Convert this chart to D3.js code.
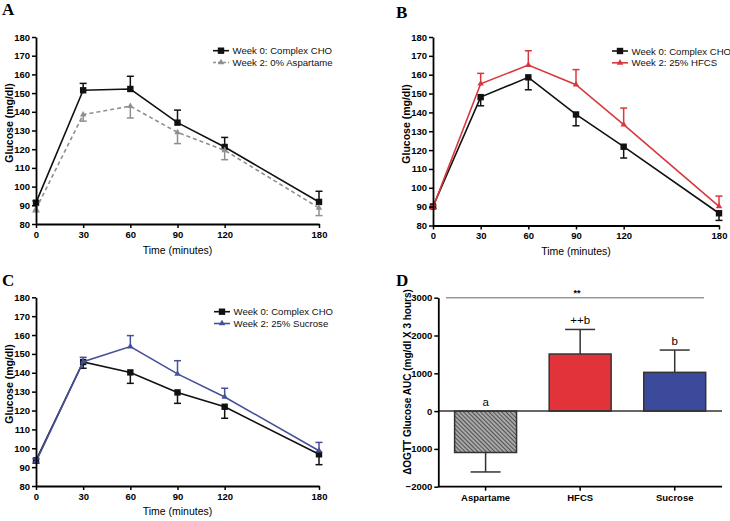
<!DOCTYPE html>
<html><head><meta charset="utf-8">
<script src="https://cdn.jsdelivr.net/npm/d3@7"></script>
<style>
body{margin:0;background:#fff;}
svg{display:block;font-family:"Liberation Sans",Arial,sans-serif;}
</style></head>
<body><svg id="c" width="730" height="521"></svg>
<script>
// ---------- data ----------
const timePoints = [0, 30, 60, 90, 120, 180];
const glucoseTicks = [80, 90, 100, 110, 120, 130, 140, 150, 160, 170, 180];

const aCho = [91.4, 151.5, 152.2, 134.2, 121.2, 91.8];
const aChoSem = [1.0, 3.7, 6.8, 6.7, 5.1, 5.7];
const aAsp = [88.0, 138.5, 143.0, 129.0, 119.4, 88.6];
const aAspSem = [1.5, 3.5, 6.3, 6.0, 5.0, 4.1];

const bCho = [90.1, 148.1, 158.6, 138.9, 121.8, 86.5];
const bChoSem = [1.0, 4.6, 6.6, 6.0, 6.0, 3.8];
const bHfcs = [89.6, 155.2, 165.1, 154.7, 133.5, 90.1];
const bHfcsSem = [1.0, 5.5, 7.6, 8.0, 8.8, 5.5];

const cCho = [93.6, 145.7, 140.2, 129.6, 122.0, 96.8];
const cChoSem = [1.5, 3.3, 5.8, 5.8, 6.1, 5.5];
const cSuc = [92.9, 145.9, 153.9, 139.4, 127.2, 98.7];
const cSucSem = [1.5, 2.3, 5.8, 7.0, 4.6, 4.4];

const aucCategories = ["Aspartame", "HFCS", "Sucrose"];
const aucValues = [-1095, 1510, 1025];
const aucSem = [515, 650, 590];
const aucLetters = ["a", "++b", "b"];
const aucTicks = [-2000, -1000, 0, 1000, 2000, 3000];

// ---------- drawing ----------
const svg = d3.select("#c");
const defs = svg.append("defs");
const pat = defs.append("pattern").attr("id", "hatch").attr("patternUnits", "userSpaceOnUse")
  .attr("width", 3).attr("height", 3).attr("patternTransform", "rotate(-45)");
pat.append("rect").attr("width", 3).attr("height", 3).attr("fill", "#a8a8a8");
pat.append("line").attr("x1", 0).attr("y1", 0).attr("x2", 0).attr("y2", 3)
  .attr("stroke", "#3a3a3a").attr("stroke-width", 1.6);

function styleAxis(g) {
  g.selectAll(".domain").attr("stroke", "#000").attr("stroke-width", 1.8);
  g.selectAll(".tick line").attr("stroke", "#000").attr("stroke-width", 1.5);
  g.selectAll(".tick text").attr("font-size", "9.5px").attr("font-weight", "bold")
    .attr("fill", "#000").attr("font-family", '"Liberation Sans",Arial,sans-serif');
}

function panelLabel(txt, x, y) {
  svg.append("text").attr("x", x).attr("y", y).text(txt)
    .attr("font-family", '"Liberation Serif","Times New Roman",serif')
    .attr("font-weight", "bold").attr("font-size", "17px");
}

function symbol(g, kind, x, y, color) {
  if (kind === "square") {
    g.append("rect").attr("x", x - 3.2).attr("y", y - 3.2).attr("width", 6.4).attr("height", 6.4).attr("fill", color);
  } else {
    g.append("path").attr("d", d3.symbol().type(d3.symbolTriangle).size(18)())
      .attr("transform", `translate(${x},${y})`).attr("fill", color);
  }
}

function linePanel(cfg) {
  const x = d3.scaleLinear().domain([0, 180]).range([cfg.x0, cfg.x1]);
  const y = d3.scaleLinear().domain([80, 180]).range([cfg.yb, cfg.yt]);
  const g = svg.append("g");

  cfg.series.forEach(s => {
    const pts = timePoints.map((t, i) => ({t, v: s.values[i], e: s.sem[i]}));
    pts.forEach(p => {
      const end = p.v + s.errDir * p.e;
      g.append("line").attr("x1", x(p.t)).attr("x2", x(p.t)).attr("y1", y(p.v)).attr("y2", y(end))
        .attr("stroke", s.color).attr("stroke-width", 1.5);
      g.append("line").attr("x1", x(p.t) - 3.5).attr("x2", x(p.t) + 3.5).attr("y1", y(end)).attr("y2", y(end))
        .attr("stroke", s.color).attr("stroke-width", 1.5);
    });
    g.append("path").datum(pts)
      .attr("d", d3.line().x(d => x(d.t)).y(d => y(d.v)))
      .attr("fill", "none").attr("stroke", s.color).attr("stroke-width", 1.6)
      .attr("stroke-dasharray", s.dash || null);
    pts.forEach(p => symbol(g, s.marker, x(p.t), y(p.v), s.color));
  });

  const ya = g.append("g").attr("transform", `translate(${cfg.x0},0)`)
    .call(d3.axisLeft(y).tickValues(glucoseTicks).tickSize(4).tickSizeOuter(0).tickPadding(2));
  styleAxis(ya);
  const xa = g.append("g").attr("transform", `translate(0,${cfg.yb})`)
    .call(d3.axisBottom(x).tickValues(timePoints).tickSize(4).tickSizeOuter(0).tickPadding(3));
  styleAxis(xa);

  g.append("text").attr("transform", `translate(${cfg.x0 - 23},${cfg.ylabY}) rotate(-90)`)
    .attr("text-anchor", "middle").attr("font-weight", "bold").attr("font-size", "10.5px")
    .text("Glucose (mg/dl)");
  g.append("text").attr("x", (cfg.x0 + cfg.x1) / 2).attr("y", cfg.xlabY)
    .attr("text-anchor", "middle").attr("font-size", "10.5px").text("Time (minutes)");

  cfg.series.forEach((s, i) => {
    const ly = cfg.legY + i * 11.8;
    g.append("line").attr("x1", cfg.legX).attr("x2", cfg.legX + 16).attr("y1", ly).attr("y2", ly)
      .attr("stroke", s.color).attr("stroke-width", 1.6).attr("stroke-dasharray", s.dash ? "3,2" : null);
    symbol(g, s.marker, cfg.legX + 8, ly, s.color);
    g.append("text").attr("x", cfg.legX + 19.5).attr("y", ly + 3.5)
      .attr("font-size", "9.6px").attr("fill", "#111").text(s.name);
  });
}

const choName = "Week 0: Complex CHO";
linePanel({x0: 36, x1: 319, yt: 37, yb: 224, ylabY: 123, xlabY: 254, legX: 213, legY: 50.7,
  series: [
    {name: choName, values: aCho, sem: aChoSem, errDir: 1, color: "#111", marker: "square"},
    {name: "Week 2: 0% Aspartame", values: aAsp, sem: aAspSem, errDir: -1, color: "#8f8f8f", marker: "tri", dash: "4,3"}
  ]});
linePanel({x0: 433, x1: 719, yt: 37, yb: 225.5, ylabY: 124, xlabY: 255, legX: 612, legY: 51,
  series: [
    {name: choName, values: bCho, sem: bChoSem, errDir: -1, color: "#111", marker: "square"},
    {name: "Week 2: 25% HFCS", values: bHfcs, sem: bHfcsSem, errDir: 1, color: "#d8373d", marker: "tri"}
  ]});
linePanel({x0: 36, x1: 319, yt: 297.3, yb: 486, ylabY: 384, xlabY: 515, legX: 214, legY: 311.7,
  series: [
    {name: choName, values: cCho, sem: cChoSem, errDir: -1, color: "#111", marker: "square"},
    {name: "Week 2: 25% Sucrose", values: cSuc, sem: cSucSem, errDir: 1, color: "#45509b", marker: "tri"}
  ]});

// ---------- panel D ----------
(function() {
  const x0 = 438.3, x1 = 722, yt = 297.7, yb = 486.7;
  const x = d3.scaleBand().domain(aucCategories).range([x0, x1]).paddingInner(0.345).paddingOuter(0.1725);
  const y = d3.scaleLinear().domain([-2000, 3000]).range([yb, yt]);
  const colors = ["url(#hatch)", "#e3333a", "#3b4a9b"];
  const g = svg.append("g");

  aucCategories.forEach((c, i) => {
    const v = aucValues[i], cx = x(c) + x.bandwidth() / 2;
    const end = v + Math.sign(v) * aucSem[i];
    g.append("line").attr("x1", cx).attr("x2", cx).attr("y1", y(v)).attr("y2", y(end))
      .attr("stroke", "#333").attr("stroke-width", 1.5);
    g.append("line").attr("x1", cx - 15).attr("x2", cx + 15).attr("y1", y(end)).attr("y2", y(end))
      .attr("stroke", "#333").attr("stroke-width", 1.5);
    g.append("rect").attr("x", x(c)).attr("width", x.bandwidth())
      .attr("y", y(Math.max(0, v))).attr("height", Math.abs(y(v) - y(0)))
      .attr("fill", colors[i]).attr("stroke", "#333").attr("stroke-width", 1.5);
    const ly = v < 0 ? y(0) - 5 : y(end) - 5;
    g.append("text").attr("x", cx).attr("y", ly).attr("text-anchor", "middle")
      .attr("font-size", "11.5px").text(aucLetters[i]);
  });

  g.append("line").attr("x1", x0).attr("x2", x1).attr("y1", y(0)).attr("y2", y(0))
    .attr("stroke", "#333").attr("stroke-width", 1.5);

  const ya = g.append("g").attr("transform", `translate(${x0},0)`)
    .call(d3.axisLeft(y).tickValues(aucTicks).tickFormat(d3.format("d")).tickSize(4).tickSizeOuter(0).tickPadding(2));
  styleAxis(ya);
  const xa = g.append("g").attr("transform", `translate(0,${yb})`)
    .call(d3.axisBottom(x).tickSize(4).tickSizeOuter(0).tickPadding(4));
  styleAxis(xa);
  xa.select(".domain").attr("d", `M${x0},0H${x1}`);

  g.append("line").attr("x1", 446).attr("x2", 704).attr("y1", y(3000)).attr("y2", y(3000))
    .attr("stroke", "#999").attr("stroke-width", 1.5);
  g.append("text").attr("x", 577).attr("y", y(3000) - 1.5).attr("text-anchor", "middle")
    .attr("font-size", "9px").attr("font-weight", "bold").text("**");

  g.append("text").attr("transform", `translate(${410.5},${382}) rotate(-90)`)
    .attr("text-anchor", "middle").attr("font-weight", "bold").attr("font-size", "10px")
    .text("\u0394OGTT Glucose AUC (mg/dl X 3 hours)");
})();

panelLabel("A", 2, 15);
panelLabel("B", 396, 18);
panelLabel("C", 2, 286);
panelLabel("D", 396, 286);
</script></body></html>
